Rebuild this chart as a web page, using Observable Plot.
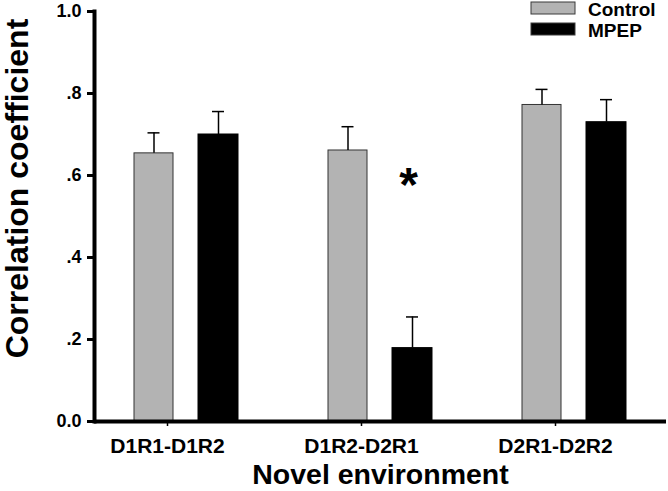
<!DOCTYPE html>
<html>
<head>
<meta charset="utf-8">
<script src="https://cdn.jsdelivr.net/npm/d3@7"></script>
<script src="https://cdn.jsdelivr.net/npm/@observablehq/plot@0.6"></script>
<style>
  html, body { margin: 0; padding: 0; background: white; }
  #wrap { position: relative; width: 668px; height: 491px; }
  #legend { position: absolute; left: 531px; top: 1.5px; width: 137px; }
  #legend style { display: none !important; }
  #legend > div { display: flex; flex-direction: column; align-items: flex-start; font-family: "Liberation Sans", Arial, sans-serif; font-size: 19px; font-weight: bold; margin: 0; color: black; line-height: 15px; min-height: 0; }
  #legend > div > *:not(style) { height: 15px; margin: 0 0 6.7px 0; padding: 0; display: flex; align-items: center; white-space: nowrap; overflow: visible; }
  #legend svg { margin-right: 13px; overflow: visible; flex-shrink: 0; position: relative; top: -1.5px; }
  #legend svg rect { stroke: #3a3a3a; stroke-width: 1px; }
</style>
</head>
<body>
<div id="wrap"><div id="chart"></div><div id="legend"></div></div>
<script>
// ---- data ----
const groups = ["D1R1-D1R2", "D1R2-D2R1", "D2R1-D2R2"];
const series = ["Control", "MPEP"];
const seriesColors = ["#b3b3b3", "#000000"];
const controlMean = [0.654, 0.661, 0.772];
const controlSem = [0.050, 0.058, 0.038];
const mpepMean = [0.700, 0.179, 0.730];
const mpepSem = [0.056, 0.076, 0.055];
const yTicks = [0, 0.2, 0.4, 0.6, 0.8, 1.0];
const yTickLabels = ["0.0", ".2", ".4", ".6", ".8", "1.0"];
const yTitle = "Correlation coefficient";
const xTitle = "Novel environment";
const significance = [{group: "D1R2-D2R1", series: "MPEP", label: "*"}];

const control = groups.map((g, i) => ({group: g, series: "Control", value: controlMean[i], sem: controlSem[i]}));
const mpep = groups.map((g, i) => ({group: g, series: "MPEP", value: mpepMean[i], sem: mpepSem[i]}));

const font = "'Liberation Sans', Arial, sans-serif";

const plot = Plot.plot({
  width: 668,
  height: 491,
  marginLeft: 94,
  marginRight: 2,
  marginTop: 11,
  marginBottom: 70,
  style: {fontFamily: font, fontWeight: "bold", color: "black", background: "white"},
  x: {type: "band", domain: groups, paddingInner: 0.4645, paddingOuter: 0.205, align: 0.5},
  y: {domain: [0, 1]},
  color: {domain: series, range: seriesColors},
  marks: [
    Plot.barY(control, {x: "group", y: "value", fill: "series", stroke: "#333", strokeWidth: 1, insetRight: 65}),
    Plot.barY(mpep, {x: "group", y: "value", fill: "series", stroke: "#000", strokeWidth: 1, insetLeft: 64}),
    Plot.ruleX(control, {x: "group", y1: "value", y2: d => d.value + d.sem, dx: -32.5, strokeWidth: 1.5, stroke: "black"}),
    Plot.tickY(control, {x: "group", y: d => d.value + d.sem, insetLeft: 13.5, insetRight: 78.5, strokeWidth: 1.5, stroke: "black"}),
    Plot.ruleX(mpep, {x: "group", y1: "value", y2: d => d.value + d.sem, dx: 32, strokeWidth: 1.5, stroke: "black"}),
    Plot.tickY(mpep, {x: "group", y: d => d.value + d.sem, insetLeft: 78, insetRight: 14, strokeWidth: 1.5, stroke: "black"}),
    Plot.text(significance, {
      x: "group",
      y: d => controlMean[groups.indexOf(d.group)],
      text: "label",
      dx: 28, dy: 16,
      lineAnchor: "top",
      fontSize: 48,
      fontWeight: "bold",
      fill: "black"
    }),
    Plot.axisY({
      ticks: yTicks,
      tickFormat: d => yTickLabels[yTicks.findIndex(t => Math.abs(t - d) < 1e-9)],
      tickSize: 7,
      tickPadding: 6,
      fontSize: 18,
      strokeWidth: 3,
      label: null
    }),
    Plot.axisX({
      tickSize: 5,
      tickPadding: 12,
      fontSize: 21,
      dx: -19,
      strokeWidth: 1.5,
      label: null
    }),
    Plot.frame({anchor: "left", strokeWidth: 4, stroke: "black"}),
    Plot.ruleY([0], {strokeWidth: 4, stroke: "black"}),
    Plot.text([yTitle], {text: d => d, frameAnchor: "left", textAnchor: "middle", lineAnchor: "middle", rotate: -90, dx: -77, dy: -28, fontSize: 32, fontWeight: "bold", fill: "black"}),
    Plot.text([xTitle], {text: d => d, frameAnchor: "bottom", textAnchor: "middle", lineAnchor: "top", dy: 42, fontSize: 28.5, fontWeight: "bold", fill: "black"})
  ]
});
document.getElementById("chart").append(plot);

const legend = plot.legend("color", {swatchWidth: 44, swatchHeight: 12});
document.getElementById("legend").append(legend);
</script>
</body>
</html>
